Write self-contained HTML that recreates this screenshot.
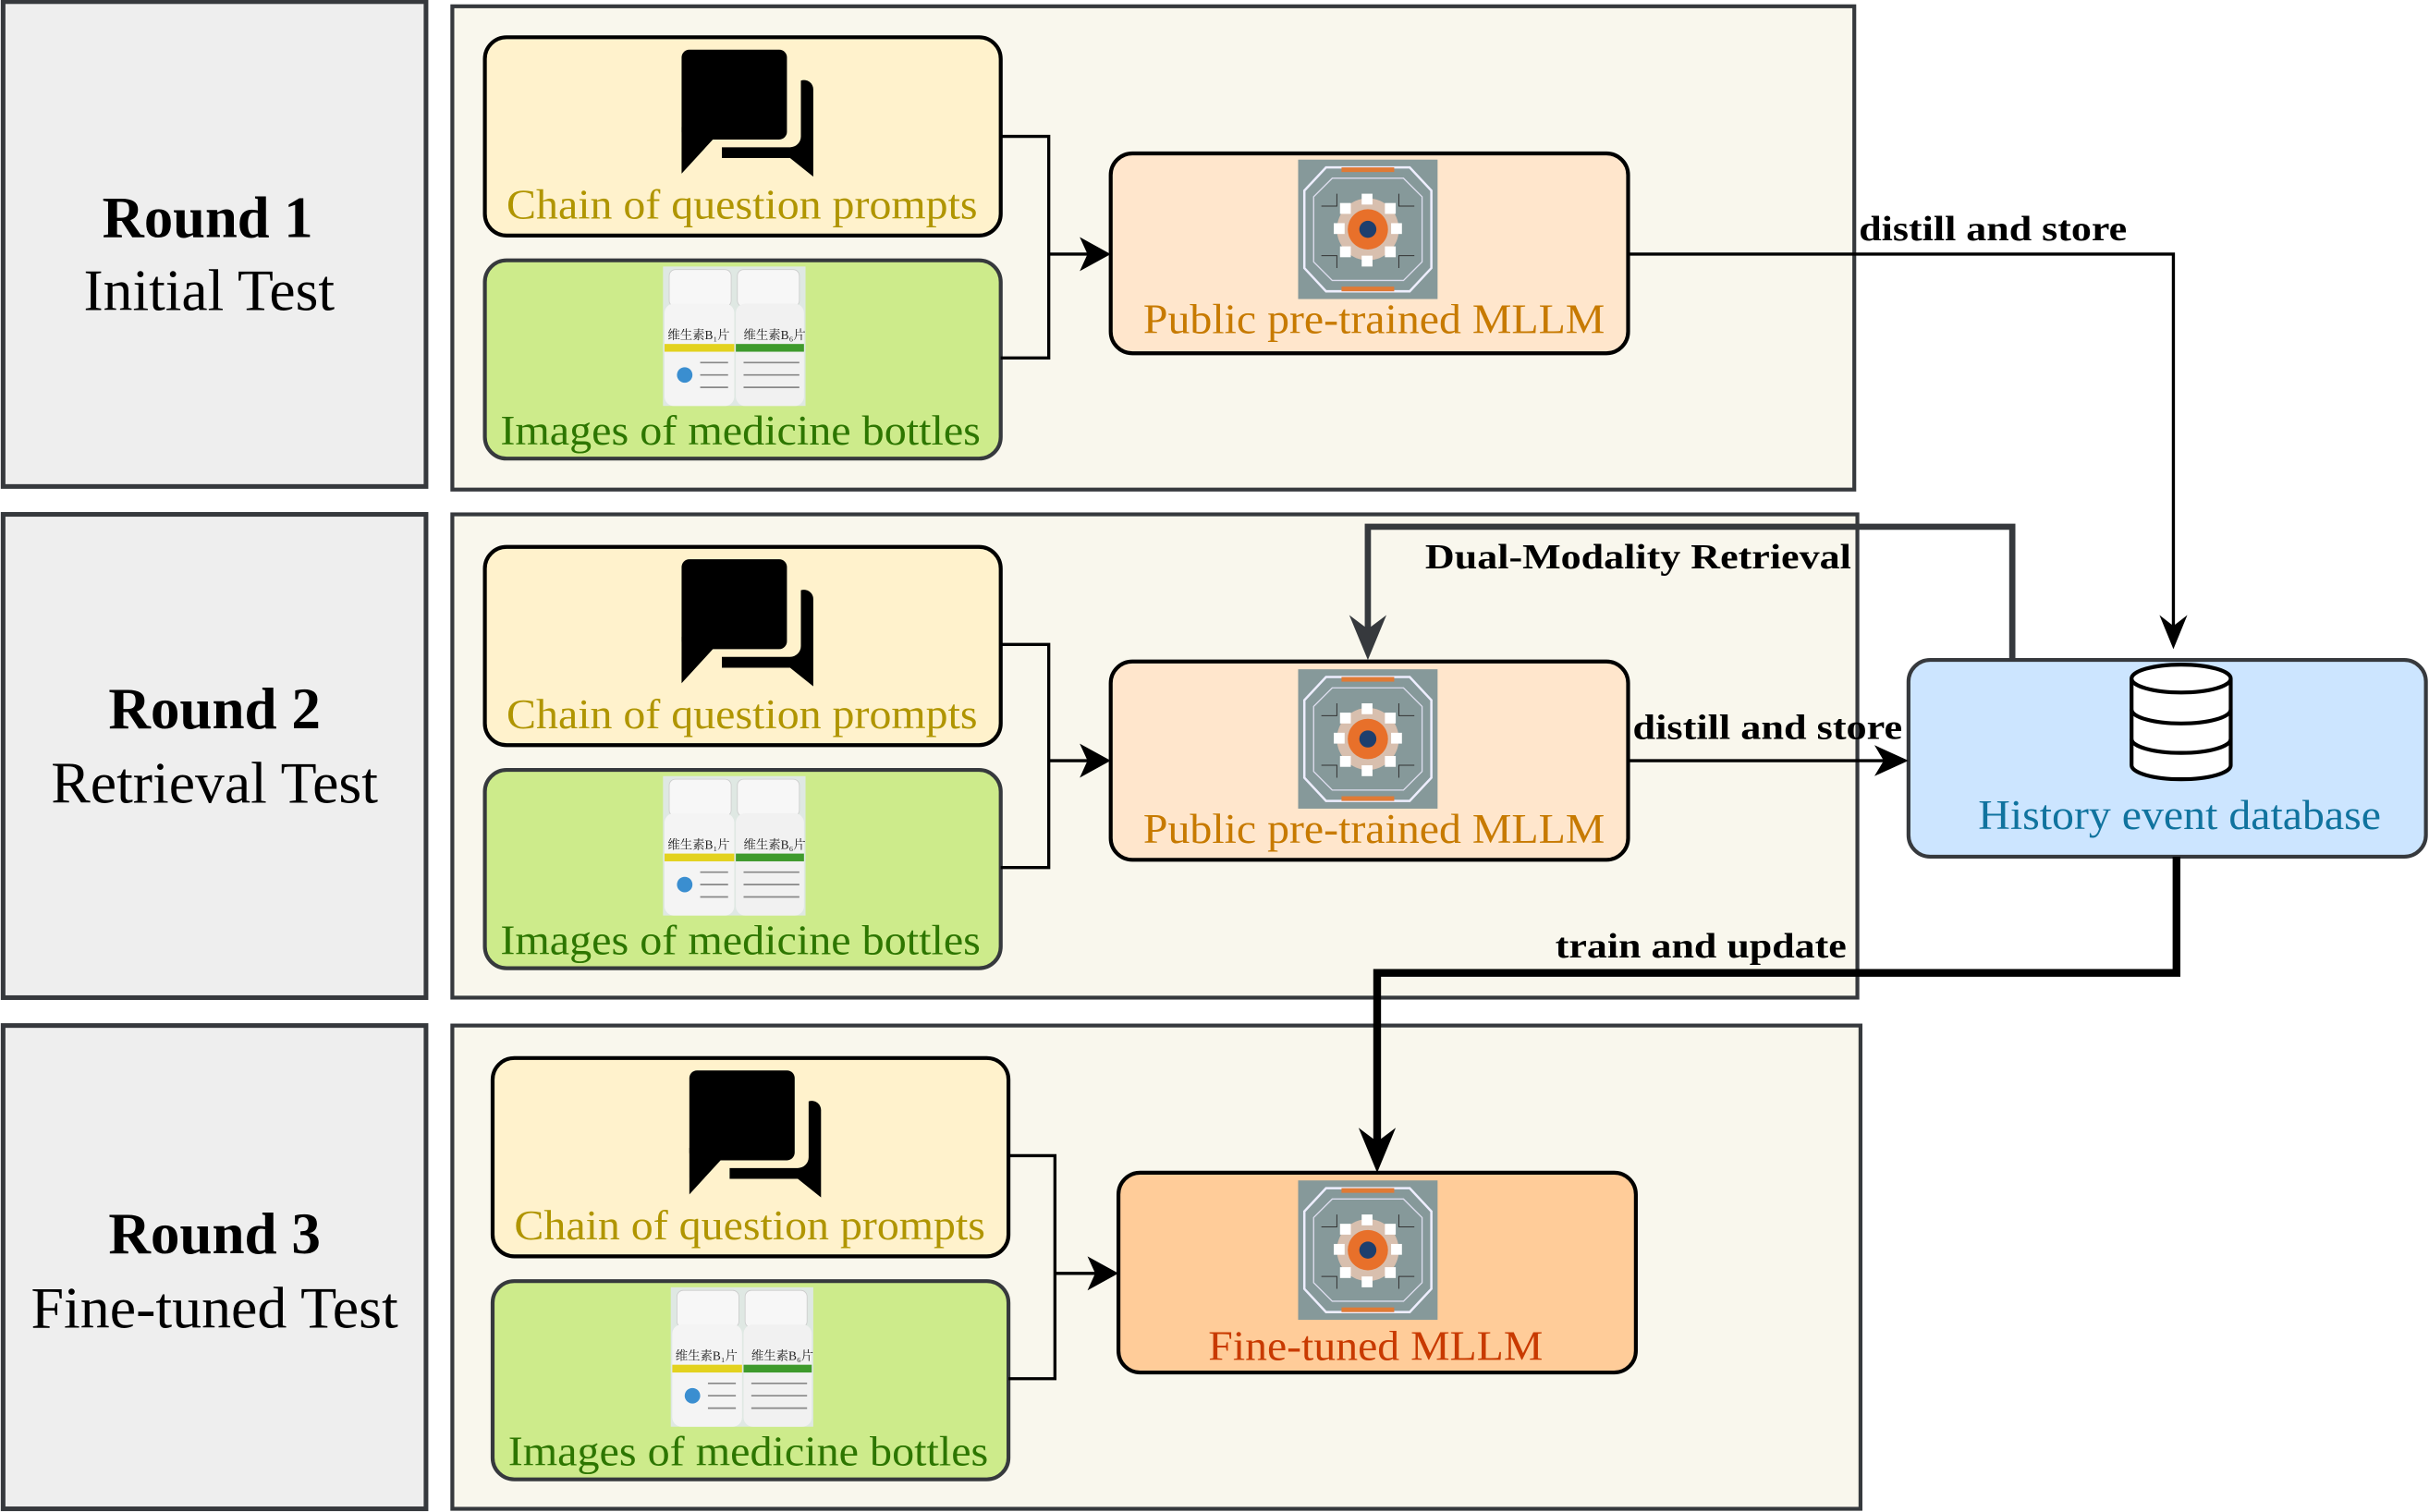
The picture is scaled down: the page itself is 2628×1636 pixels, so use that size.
<!DOCTYPE html>
<html><head><meta charset="utf-8"><style>html,body{margin:0;padding:0;background:#fff}svg{display:block}</style></head><body>
<svg width="2628" height="1636" viewBox="0 0 1568 976" xmlns="http://www.w3.org/2000/svg" font-family="'Liberation Serif','Noto Serif CJK SC',serif">
<defs>
<g id="chat">
<rect x="0" y="0" width="68" height="58" rx="5" fill="#000"/>
<path d="M0 50 V80 L22 56 Z" fill="#000"/>
<path d="M77 20 a6 6 0 0 1 8 6 V82 L70 70 H26 V63 H70 a7 7 0 0 0 7 -7 Z" fill="#000"/>
</g>
<g id="bottles">
<rect x="0" y="0" width="92" height="90" fill="#dfe8e3"/>
<rect x="4" y="2" width="40" height="24" rx="4" fill="#f7f7f7" stroke="#ccc" stroke-width="0.5"/>
<rect x="48" y="2" width="40" height="24" rx="4" fill="#f7f7f7" stroke="#ccc" stroke-width="0.5"/>
<rect x="1" y="24" width="45" height="66" rx="6" fill="#f4f4f4"/>
<rect x="47" y="24" width="44" height="66" rx="6" fill="#f1f1f1"/>
<rect x="1" y="50" width="45" height="5" fill="#e3d21e"/>
<rect x="47" y="50" width="44" height="5" fill="#3e9a2c"/>
<text x="3" y="47" font-size="8" fill="#222">维生素B₁片</text>
<text x="52" y="47" font-size="8" fill="#222">维生素B₆片</text>
<circle cx="14" cy="70" r="5" fill="#3a8ed0"/>
<g stroke="#888" stroke-width="1"><line x1="24" y1="62" x2="42" y2="62"/><line x1="24" y1="70" x2="42" y2="70"/><line x1="24" y1="78" x2="42" y2="78"/><line x1="52" y1="62" x2="88" y2="62"/><line x1="52" y1="70" x2="88" y2="70"/><line x1="52" y1="78" x2="88" y2="78"/></g>
</g>
<g id="chip">
<rect x="0" y="0" width="90" height="90" fill="#86999a"/>
<path d="M18 5 H72 L86 20 V70 L72 85 H18 L4 70 V20 Z" fill="none" stroke="#eef" stroke-width="1.5"/>
<path d="M22 12 H68 L80 24 V66 L68 78 H22 L10 66 V24 Z" fill="none" stroke="#dde" stroke-width="0.8"/>
<rect x="28" y="5" width="34" height="3" fill="#e07a35"/>
<rect x="28" y="82" width="34" height="3" fill="#e07a35"/>
<circle cx="45" cy="45" r="20" fill="#d8bfae"/>
<circle cx="45" cy="45" r="13" fill="#e8702a"/>
<circle cx="45" cy="45" r="5.5" fill="#1d3f6e"/>
<g fill="#fff"><rect x="41" y="22" width="7" height="7"/><rect x="41" y="62" width="7" height="7"/><rect x="23" y="41" width="7" height="7"/><rect x="60" y="41" width="7" height="7"/><rect x="27" y="28" width="7" height="7"/><rect x="56" y="28" width="7" height="7"/><rect x="27" y="56" width="7" height="7"/><rect x="56" y="56" width="7" height="7"/></g>
<g stroke="#333" stroke-width="0.6" fill="none"><path d="M15 30 h10 v-8 M75 30 h-10 v-8 M15 62 h10 v8 M75 62 h-10 v8"/></g>
</g>
<g id="rowbase">
<rect x="0" y="0" width="333" height="128" rx="14" fill="#fff2cc" stroke="#000" stroke-width="2.5"/>
<use href="#chat" x="127" y="8"/>
<text x="14" y="117" font-size="27" fill="#b09500" textLength="304" lengthAdjust="spacingAndGlyphs">Chain of question prompts</text>
<rect x="0" y="144" width="333" height="128" rx="14" fill="#cdeb8b" stroke="#36393d" stroke-width="2.5"/>
<use href="#bottles" x="115" y="148"/>
<text x="10" y="263" font-size="27" fill="#2d7600" textLength="310" lengthAdjust="spacingAndGlyphs">Images of medicine bottles</text>
</g>
</defs>

<g fill="#eeeeee" stroke="#36393d" stroke-width="3">
<rect x="2" y="1" width="273" height="313"/>
<rect x="2" y="332" width="273" height="312"/>
<rect x="2" y="662" width="273" height="312"/>
</g>
<g font-size="38" fill="#000">
<text x="66" y="153" font-weight="bold" textLength="136" lengthAdjust="spacingAndGlyphs">Round 1</text>
<text x="54" y="200" textLength="162" lengthAdjust="spacingAndGlyphs">Initial Test</text>
<text x="70" y="470" font-weight="bold" textLength="137" lengthAdjust="spacingAndGlyphs">Round 2</text>
<text x="33" y="518" textLength="211" lengthAdjust="spacingAndGlyphs">Retrieval Test</text>
<text x="70" y="809" font-weight="bold" textLength="137" lengthAdjust="spacingAndGlyphs">Round 3</text>
<text x="20" y="857" textLength="237" lengthAdjust="spacingAndGlyphs">Fine-tuned Test</text>
</g>
<g fill="#f9f7ed" stroke="#36393d" stroke-width="2.5">
<rect x="292" y="4" width="905" height="312"/>
<rect x="292" y="332" width="907" height="312"/>
<rect x="292" y="662" width="909" height="312"/>
</g>

<use href="#rowbase" x="313" y="24"/>
<use href="#rowbase" x="313" y="353"/>
<use href="#rowbase" x="318" y="683"/>

<g fill="none" stroke="#000" stroke-width="2">
<path d="M646 88 H677 V231 H646 M677 164 H708"/>
<path d="M646 416 H677 V560 H646 M677 491 H708"/>
<path d="M651 746 H681 V890 H651 M681 822 H713"/>
</g>
<g fill="#000">
<path d="M717 164 l-20 -11 l5 11 l-5 11z"/>
<path d="M717 491 l-20 -11 l5 11 l-5 11z"/>
<path d="M722 822 l-20 -11 l5 11 l-5 11z"/>
</g>

<rect x="717" y="99" width="334" height="129" rx="14" fill="#ffe6cc" stroke="#000" stroke-width="2.5"/>
<use href="#chip" x="838" y="103"/>
<text x="738" y="215" font-size="27" fill="#c77a00" textLength="298" lengthAdjust="spacingAndGlyphs">Public pre-trained MLLM</text>
<rect x="717" y="427" width="334" height="128" rx="14" fill="#ffe6cc" stroke="#000" stroke-width="2.5"/>
<use href="#chip" x="838" y="432"/>
<text x="738" y="544" font-size="27" fill="#c77a00" textLength="298" lengthAdjust="spacingAndGlyphs">Public pre-trained MLLM</text>
<rect x="722" y="757" width="334" height="129" rx="14" fill="#ffcc99" stroke="#000" stroke-width="2.5"/>
<use href="#chip" x="838" y="762"/>
<text x="780" y="878" font-size="27" fill="#c83a00" textLength="216" lengthAdjust="spacingAndGlyphs">Fine-tuned MLLM</text>

<rect x="1232" y="426" width="334" height="127" rx="14" fill="#cce5ff" stroke="#36393d" stroke-width="2.5"/>
<g fill="#fff" stroke="#000" stroke-width="2.5">
<path d="M1376 438 v56 a32 9 0 0 0 64 0 v-56"/>
<ellipse cx="1408" cy="438" rx="32" ry="9"/>
<path d="M1376 458 a32 9 0 0 0 64 0 M1376 477 a32 9 0 0 0 64 0" fill="none"/>
</g>
<text x="1277" y="535" font-size="27" fill="#10739e" textLength="260" lengthAdjust="spacingAndGlyphs">History event database</text>

<path d="M1051 164 H1403 V405" fill="none" stroke="#000" stroke-width="2"/>
<path d="M1403 419 l-9 -22 l9 7 l9 -7z" fill="#000"/>
<path d="M1051 491 H1218" fill="none" stroke="#000" stroke-width="2"/>
<path d="M1232 491 l-22 -10 l6 10 l-6 10z" fill="#000"/>
<path d="M1299 426 V340 H883 V410" fill="none" stroke="#36393d" stroke-width="4"/>
<path d="M883 426 l-12 -29 l12 9 l12 -9z" fill="#36393d"/>
<path d="M1405 553 V628 H889 V742" fill="none" stroke="#000" stroke-width="5"/>
<path d="M889 757 l-12 -29 l12 9 l12 -9z" fill="#000"/>

<g font-size="23" font-weight="bold" fill="#000">
<text x="1200" y="155" textLength="173" lengthAdjust="spacingAndGlyphs">distill and store</text>
<text x="920" y="367" textLength="275" lengthAdjust="spacingAndGlyphs">Dual-Modality Retrieval</text>
<text x="1054" y="477" textLength="174" lengthAdjust="spacingAndGlyphs">distill and store</text>
<text x="1004" y="618" textLength="188" lengthAdjust="spacingAndGlyphs">train and update</text>
</g>
</svg>
</body></html>
